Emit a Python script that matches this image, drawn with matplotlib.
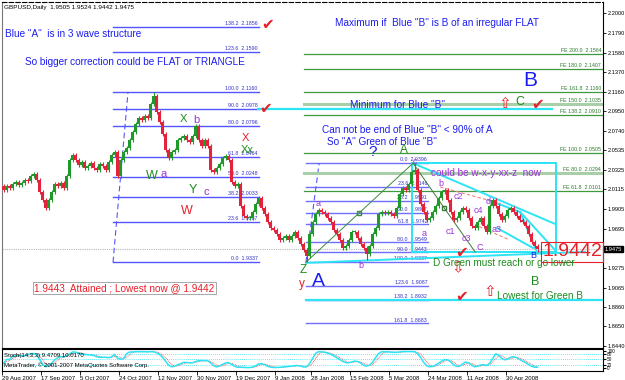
import numpy as np
import pandas as pd
import matplotlib
matplotlib.use('Agg')
import matplotlib.pyplot as plt
from matplotlib.patches import Rectangle
import matplotlib.transforms as mtrans

plt.rcParams['font.family'] = ['Liberation Sans', 'DejaVu Sans']

################################################################################
# data #
###########################

# daily closes GBPUSD, 29 Aug 2007 -> mid May 2008
closes = [
    2.0109, 2.0152, 2.0130, 2.0173, 2.0195, 2.0162, 2.0184, 2.0216, 2.0205, 2.0259,
    2.0280, 2.0216, 2.0088, 2.0002, 1.9916, 2.0002, 2.0088, 2.0173, 2.0152, 2.0184,
    2.0130, 2.0259, 2.0430, 2.0484, 2.0430, 2.0377, 2.0409, 2.0344, 2.0366, 2.0398,
    2.0344, 2.0323, 2.0387, 2.0366, 2.0323, 2.0409, 2.0484, 2.0516, 2.0259, 2.0430,
    2.0516, 2.0558, 2.0644, 2.0730, 2.0815, 2.0879, 2.0858, 2.0901, 2.0879, 2.1029,
    2.1115, 2.0944, 2.0837, 2.0708, 2.0537, 2.0451, 2.0516, 2.0537, 2.0644, 2.0666,
    2.0687, 2.0644, 2.0623, 2.0687, 2.0794, 2.0644, 2.0580, 2.0644, 2.0580, 2.0323,
    2.0302, 2.0344, 2.0387, 2.0451, 2.0473, 2.0430, 2.0195, 2.0152, 2.0173, 1.9938,
    1.9831, 1.9809, 1.9809, 1.9874, 1.9959, 2.0023, 1.9916, 1.9852, 1.9767, 1.9702,
    1.9681, 1.9638, 1.9574, 1.9595, 1.9617, 1.9574, 1.9617, 1.9660, 1.9595, 1.9531,
    1.9467, 1.9403, 1.9638, 1.9767, 1.9852, 1.9895, 1.9874, 1.9852, 1.9809, 1.9767,
    1.9681, 1.9638, 1.9574, 1.9488, 1.9510, 1.9574, 1.9660, 1.9660, 1.9595, 1.9531,
    1.9488, 1.9424, 1.9510, 1.9638, 1.9702, 1.9852, 1.9874, 1.9863, 1.9874, 1.9852,
    1.9831, 1.9916, 2.0066, 2.0130, 2.0109, 2.0173, 2.0302, 2.0323, 2.0109, 1.9959,
    1.9874, 1.9788, 1.9809, 1.9874, 1.9938, 2.0023, 2.0088, 2.0109, 2.0002, 1.9874,
    1.9788, 1.9809, 1.9874, 1.9916, 1.9895, 1.9809, 1.9724, 1.9702, 1.9767, 1.9809,
    1.9724, 1.9660, 1.9938, 2.0002, 1.9938, 1.9852, 1.9788, 1.9831, 1.9895, 1.9916,
    1.9874, 1.9831, 1.9788, 1.9767, 1.9724, 1.9638, 1.9553, 1.9510, 1.9475,
]
first_open = 2.0150
# extremes that poke out past the usual wicks
high_marks = {50: 2.1160, 137: 2.0396}
low_marks = {101: 1.9337, 121: 1.9360, 178: 1.9442}

header = 'GBPUSD,Daily  1.9505 1.9524 1.9442 1.9475'
last_price = 1.9475

date_labels = ['29 Aug 2007', '17 Sep 2007', '5 Oct 2007', '24 Oct 2007', '12 Nov 2007',
               '30 Nov 2007', '19 Dec 2007', '9 Jan 2008', '28 Jan 2008', '15 Feb 2008',
               '5 Mar 2008', '24 Mar 2008', '11 Apr 2008', '30 Apr 2008']
date_bars = [0, 13, 26, 39, 52, 65, 78, 91, 103, 116, 129, 142, 155, 168]

price_ticks = [2.2000, 2.1790, 2.1580, 2.1370, 2.1160, 2.0950, 2.0740, 2.0535, 2.0325,
               2.0115, 1.9905, 1.9695, 1.9275, 1.9065, 1.8860, 1.8650, 1.8440]

# fibo retracement on the big move (blue, left)
fib1_ratio = [0.0, 23.6, 38.2, 50.0, 61.8, 80.0, 90.0, 100.0, 123.6, 138.2]
fib1_price = [1.9337, 1.9767, 2.0033, 2.0248, 2.0464, 2.0796, 2.0978, 2.1160, 2.1590, 2.1856]
# fibo retracement on Green A (blue, right)
fib2_ratio = [0.0, 23.6, 38.2, 50.0, 61.8, 80.0, 90.0, 100.0, 123.6, 138.2, 161.8]
fib2_price = [2.0396, 2.0146, 1.9991, 1.9867, 1.9742, 1.9549, 1.9443, 1.9337, 1.9087, 1.8932, 1.8683]
# fibo expansion (green)
fe_ratio = [61.8, 80.0, 100.0, 138.2, 150.0, 161.8, 180.0, 200.0]
fe_price = [2.0101, 2.0294, 2.0505, 2.0910, 2.1035, 2.1160, 2.1407, 2.1564]

################################################################################
# figure #
##########
W, H = 625, 380
fig = plt.figure(figsize=(W / 100, H / 100), dpi=100, facecolor='white')
ax = fig.add_axes([2 / W, 1 - 348 / H, 601 / W, 346 / H])
sub = fig.add_axes([2 / W, 1 - 371 / H, 601 / W, 22 / H])

xmin, xmax = -0.5, 199.8
ax.set_xlim(xmin, xmax)
ax.set_ylim(1.8419, 2.2121)
sub.set_xlim(xmin, xmax)
sub.set_ylim(-17, 111)

def put(px, py, s, **kw):
    kw.setdefault('va', 'center')
    fig.text(px / W, 1 - py / H, s, **kw)

blue = '#1c1cf0'
green = '#1e8c1e'
red = '#e8202a'
purple = '#a030d8'
cyan = '#2ce4f4'
fibblue = '#5555ff'
fegreen = '#3f9a3f'

################################################################################
# candles #
###########
c = np.array(closes)
n = len(c)
xs = np.arange(n)
o = np.concatenate([[first_open], c[:-1]])
wick = 0.0025
hi = np.maximum(o, c) + wick
lo = np.minimum(o, c) - wick
for k, v in high_marks.items():
    hi[k] = v
for k, v in low_marks.items():
    lo[k] = v
col = np.where(c >= o, '#1f9a2a', '#e3223c')
ax.vlines(xs, lo, hi, colors=col, lw=0.8, zorder=4)
body = np.maximum(np.abs(c - o), 0.0007)
ax.bar(xs, body, bottom=np.minimum(o, c), width=0.8, color=col, lw=0, zorder=4)

# current price line
ax.axhline(last_price, color='#b8b8b8', lw=0.8, ls=(0, (1, 1)), zorder=1)

################################################################################
# fibo objects #
################
f1x = (36.5, 85.0)
for r, p in zip(fib1_ratio, fib1_price):
    ax.plot(f1x, [p, p], color=fibblue, lw=1, zorder=2)
    ax.text(f1x[1] - 0.3, p + 0.0008, f'{r:.1f}  {p:.4f}', ha='right', va='bottom',
            fontsize=3.8, color='#3030c8', zorder=2)
ax.plot([36.5, 41.5], [fib1_price[0], fib1_price[7]], color=fibblue, lw=0.8, ls=(0, (5, 3)), zorder=2)

f2x = (100.8, 141.5)
for r, p in zip(fib2_ratio, fib2_price):
    ax.plot(f2x, [p, p], color=fibblue, lw=1, alpha=0.85, zorder=2)
    ax.text(f2x[1] - 0.3, p + 0.0008, f'{r:.1f}  {p:.4f}', ha='right', va='bottom',
            fontsize=3.8, color='#3030c8', zorder=2)
ax.plot([100.8, 105.2], [fib2_price[7], fib2_price[0]], color=fibblue, lw=0.8, ls=(0, (5, 3)), zorder=2)

for r, p in zip(fe_ratio, fe_price):
    if r in (150.0, 80.0):
        ax.plot([100.2, xmax], [p, p], color='#a8cfa8', lw=2.2, zorder=2)
    else:
        ax.plot([100.2, xmax], [p, p], color=fegreen, lw=0.9, zorder=2)
    ax.text(199.2, p + 0.0008, f'FE {r:.1f}  {p:.4f}', ha='right', va='bottom',
            fontsize=3.8, color='#2a7a2a', zorder=2)

################################################################################
# cyan lines, rectangle, triangle #
###################################
ax.plot([84.8, 182.8], [2.0978, 2.0978], color=cyan, lw=1.6, zorder=3)
ax.plot([100.8, xmax], [1.8932, 1.8932], color=cyan, lw=1.6, zorder=3)
ax.add_patch(Rectangle((136.2, 1.9443), 48.0, 2.0396 - 1.9443, fill=False,
                       ec=cyan, lw=1.4, zorder=3))
tri = [((136.5, 2.0396), (183.8, 1.9747)),
       ((161.5, 2.0002), (172.2, 1.9874)),
       ((172.2, 1.9874), (177.8, 1.9446)),
       ((172.2, 1.9874), (183.8, 1.9468)),
       ((164.5, 1.9703), (176.5, 1.9489)),
       ((100.8, 1.9330), (193.8, 1.9448))]
for (x0, y0), (x1, y1) in tri:
    ax.plot([x0, x1], [y0, y1], color=cyan, lw=1.4, zorder=3)

# green wave lines
ax.plot([100.8, 118.6, 136.5], [1.9337, 1.9866, 2.0396], color='#3c8c3c', lw=0.7,
        marker='s', ms=2.2, mfc='none', markevery=[1], zorder=3)
ax.plot([136.5, 146.8, 157.2], [2.0396, 1.9921, 1.9446], color='#3c7a3c', lw=0.7,
        marker='s', ms=2.2, mfc='none', markevery=[1], zorder=3)
# pink dashed channel
ax.plot([145.5, 165.8], [2.0142, 1.9964], color='#f08080', lw=0.8, ls=(0, (3, 2)), zorder=3)
ax.plot([158.5, 168.5], [1.9718, 1.9578], color='#f08080', lw=0.8, ls=(0, (3, 2)), zorder=3)

################################################################################
# right price scale #
#####################
for a in (ax, sub):
    a.yaxis.tick_right()
    for s in a.spines.values():
        s.set_color('black')
        s.set_linewidth(0.8)
ax.spines['top'].set_linestyle((0, (4, 2)))
ax.spines['left'].set_color('#777777')
ax.set_yticks(price_ticks)
ax.set_yticklabels([f'{v:.4f}' for v in price_ticks])
ax.tick_params(axis='y', labelsize=4.1, length=2.5, width=0.6, pad=1, colors='black')
ax.tick_params(axis='x', bottom=False, labelbottom=False)
blend = mtrans.blended_transform_factory(ax.transAxes, ax.transData)
ax.text(1.003, last_price, f'{last_price:.4f}', transform=blend, fontsize=4.1, color='white',
        va='center', ha='left', bbox=dict(fc='black', ec='black', pad=0.5), zorder=6)

################################################################################
# stochastic #
##############
hh = pd.Series(hi).rolling(14, min_periods=1).max()
ll = pd.Series(lo).rolling(14, min_periods=1).min()
num = (pd.Series(c) - ll).rolling(3, min_periods=1).sum()
den = (hh - ll).rolling(3, min_periods=1).sum()
k_line = 100 * num / den
d_line = k_line.rolling(3, min_periods=1).mean()
for lev in (20, 50, 80):
    sub.axhline(lev, color=cyan, lw=0.6, ls=(0, (1, 1.5)))
sub.plot(xs, d_line, color='#e04040', lw=0.6, ls=(0, (1, 1)))
sub.plot(xs, k_line, color=cyan, lw=1.1)
sub.set_yticks([0, 20, 50, 80, 100])
sub.set_yticklabels(['0', '20', '50', '80', '100'])
sub.tick_params(axis='y', labelsize=3.4, length=2, pad=1)
sub.set_xticks([b - 0.5 for b in date_bars])
sub.set_xticklabels(date_labels, ha='left')
sub.tick_params(axis='x', labelsize=4.3, length=3, width=0.6, pad=0.5)
sub.text(0.003, 0.72, 'Stoch(14,3,3) 9.4709 10.0170', transform=sub.transAxes,
         fontsize=4.3, va='center')
sub.text(0.003, 0.28, 'MetaTrader, \u00a9 2001-2007 MetaQuotes Software Corp.',
         transform=sub.transAxes, fontsize=4.3, va='center')

################################################################################
# annotations #
###############
put(4, 7, header, fontsize=4.6)
put(5, 34, 'Blue "A"  is in 3 wave structure', fontsize=7.2, color=blue)
put(25, 62, 'So bigger correction could be FLAT or TRIANGLE', fontsize=7.2, color=blue)
put(335, 23, 'Maximum if  Blue "B" is B of an irregular FLAT', fontsize=7.2, color=blue)
put(350, 105, 'Minimum for Blue "B"', fontsize=7.2, color=blue)
put(322, 130, 'Can not be end of Blue "B" < 90% of A', fontsize=7.2, color=blue)
put(327, 142, 'So "A" Green of Blue "B"', fontsize=7.2, color=blue)
put(373, 152, '?', fontsize=11, color=blue, ha='center')
put(404, 150, 'A', fontsize=8.5, color=green, ha='center')
put(530, 81, 'B', fontsize=15, color=blue, ha='center')
put(520, 102, 'C', fontsize=9, color=green, ha='center')
put(431, 173, 'could be w-x-y-xx-z  now', fontsize=7.2, color=purple)
put(572, 252, '1.9442', fontsize=14, color=red, ha='center',
    bbox=dict(fc='none', ec=red, lw=0.8, pad=1.0))
put(433, 263, 'D Green must reach or go lower', fontsize=7.2, color=green)
put(535, 282, 'B', fontsize=9, color=green, ha='center')
put(497, 296, 'Lowest for Green B', fontsize=7.2, color=green)
put(303, 270, 'Z', fontsize=8.5, color=green, ha='center')
put(302, 284, 'y', fontsize=8.5, color=red, ha='center')
put(318, 282, 'A', fontsize=14, color=blue, ha='center')
put(34, 288, '1.9443  Attained ; Lowest now @ 1.9442', fontsize=7.2, color=red,
    bbox=dict(fc='white', ec='#999999', lw=0.6, pad=1.0))
put(533, 256, 'B', fontsize=6.5, color=blue, ha='center')

# wave labels, left side
for px, py, s, cl in [(152, 176, 'W', green), (164, 174, 'a', purple), (183, 119, 'X', green),
                      (196, 120, 'b', purple), (245, 138, 'X', red), (247, 150, 'Xx', green),
                      (193, 190, 'Y', green), (206, 192, 'c', purple), (187, 211, 'W', red)]:
    put(px, py, s, fontsize=9 if s in ('W', 'Y') else 8, color=cl, ha='center')
# wave labels, right side
for px, py, s in [(318, 204, 'a'), (361, 266, 'b'), (424, 234, 'a'), (441, 184, 'b'),
                  (415, 162, 'c'), (458, 197, 'c2'), (478, 211, 'c4'), (450, 232, 'c1'),
                  (466, 239, 'c3'), (480, 248, 'C'), (488, 202, 'd'), (497, 229, 'a3')]:
    put(px, py, s, fontsize=6.5, color=purple, ha='center')

# check marks and arrows
for px, py in [(268, 25), (266, 108), (538, 104), (462, 252), (462, 297)]:
    put(px, py, '\u2714', fontsize=11, color=red, ha='center', family='DejaVu Sans')
put(505, 103, '\u21e7', fontsize=11, color=red, ha='center', family='DejaVu Sans')
put(490, 291, '\u21e7', fontsize=11, color=red, ha='center', family='DejaVu Sans')
put(458, 268, '\u21e9', fontsize=11, color=red, ha='center', family='DejaVu Sans')

fig.savefig('out.png', dpi=100, facecolor='white')
